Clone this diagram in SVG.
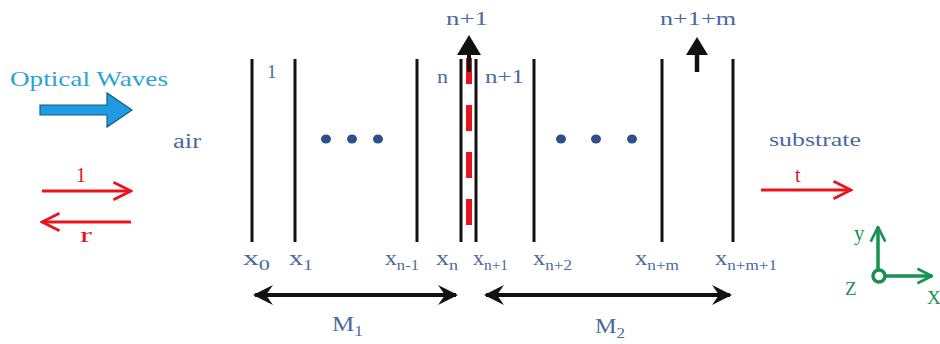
<svg xmlns="http://www.w3.org/2000/svg" width="940" height="344" viewBox="0 0 940 344" font-family="Liberation Serif">
<defs>
<marker id="redhead" viewBox="0 0 12 12" refX="11" refY="6" markerWidth="7" markerHeight="7" orient="auto-start-reverse" markerUnits="strokeWidth">
<path d="M1,1 L11,6 L1,11" fill="none" stroke="#e8141c" stroke-width="1.6"/>
</marker>
<marker id="blkhead" viewBox="0 0 20 20" refX="18" refY="10" markerWidth="5" markerHeight="6" orient="auto-start-reverse" markerUnits="strokeWidth">
<path d="M0,0 L20,10 L0,20 L7,10 Z" fill="#111"/>
</marker>
<marker id="grnhead" viewBox="0 0 12 12" refX="11" refY="6" markerWidth="5" markerHeight="5" orient="auto-start-reverse" markerUnits="strokeWidth">
<path d="M1,1 L11,6 L1,11" fill="none" stroke="#16924f" stroke-width="1.8"/>
</marker>
</defs>

<g id="optical-waves">
<text x="10" y="86" fill="#2aa4d6" font-size="22" font-family="Liberation Serif" textLength="158" lengthAdjust="spacingAndGlyphs">Optical Waves</text>
<path d="M40,105 L107,105 L107,93 L132,110 L107,127 L107,115 L40,115 Z" fill="#1f9be2" stroke="#1a5a8a" stroke-width="1.2"/>
</g>

<g id="air" fill="#4a6a9e"><text x="173" y="148" font-size="20" font-family="Liberation Serif" textLength="28" lengthAdjust="spacingAndGlyphs">air</text></g>
<g id="substrate" fill="#4a6a9e"><text x="769" y="146" font-size="19" font-family="Liberation Serif" textLength="92" lengthAdjust="spacingAndGlyphs">substrate</text></g>

<g id="layers" stroke="#111" stroke-width="3">
<line x1="252" y1="59" x2="252" y2="242"/>
<line x1="295" y1="59" x2="295" y2="242"/>
<line x1="417" y1="59" x2="417" y2="242"/>
<line x1="461" y1="59" x2="461" y2="242"/>
<line x1="476" y1="59" x2="476" y2="242"/>
<line x1="534" y1="59" x2="534" y2="242"/>
<line x1="662" y1="59" x2="662" y2="242"/>
<line x1="733" y1="59" x2="733" y2="242"/>
<line x1="469" y1="58" x2="469" y2="226" stroke="#e8141c" stroke-width="6" stroke-dasharray="26 21"/>
</g>

<g id="layer-labels" fill="#4a6a9e" font-size="19">
<text x="267" y="78" font-family="Liberation Serif">1</text>
<text x="437" y="83" font-family="Liberation Serif" textLength="11" lengthAdjust="spacingAndGlyphs">n</text>
<text x="485" y="83" font-family="Liberation Serif" textLength="39" lengthAdjust="spacingAndGlyphs">n+1</text>
<text x="446" y="25" font-family="Liberation Serif" textLength="42" lengthAdjust="spacingAndGlyphs">n+1</text>
<text x="660" y="25" font-family="Liberation Serif" textLength="76" lengthAdjust="spacingAndGlyphs">n+1+m</text>
</g>

<g id="dots" fill="#2f4f8a">
<ellipse cx="326" cy="139" rx="5" ry="4.5"/>
<ellipse cx="352" cy="139" rx="5" ry="4.5"/>
<ellipse cx="378" cy="139" rx="5" ry="4.5"/>
<ellipse cx="561" cy="139" rx="5" ry="4.5"/>
<ellipse cx="596" cy="139" rx="5" ry="4.5"/>
<ellipse cx="632" cy="139" rx="5" ry="4.5"/>
</g>

<g id="x-labels" fill="#4a6a9e" font-size="20">
<text x="243" y="265" font-family="Liberation Serif" textLength="27" lengthAdjust="spacingAndGlyphs">x<tspan font-size="14" dy="5">0</tspan></text>
<text x="289" y="265" font-family="Liberation Serif" textLength="24" lengthAdjust="spacingAndGlyphs">x<tspan font-size="14" dy="5">1</tspan></text>
<text x="385" y="265" font-family="Liberation Serif" textLength="34" lengthAdjust="spacingAndGlyphs">x<tspan font-size="14" dy="5">n-1</tspan></text>
<text x="436" y="265" font-family="Liberation Serif" textLength="22" lengthAdjust="spacingAndGlyphs">x<tspan font-size="14" dy="5">n</tspan></text>
<text x="473" y="265" font-family="Liberation Serif" textLength="35" lengthAdjust="spacingAndGlyphs">x<tspan font-size="14" dy="5">n+1</tspan></text>
<text x="533" y="265" font-family="Liberation Serif" textLength="39" lengthAdjust="spacingAndGlyphs">x<tspan font-size="14" dy="5">n+2</tspan></text>
<text x="635" y="265" font-family="Liberation Serif" textLength="44" lengthAdjust="spacingAndGlyphs">x<tspan font-size="14" dy="5">n+m</tspan></text>
<text x="715" y="265" font-family="Liberation Serif" textLength="62" lengthAdjust="spacingAndGlyphs">x<tspan font-size="14" dy="5">n+m+1</tspan></text>
</g>

<g id="m-labels" fill="#4a6a9e" font-size="20">
<text x="332" y="331" font-family="Liberation Serif" textLength="31" lengthAdjust="spacingAndGlyphs">M<tspan font-size="14" dy="5">1</tspan></text>
<text x="595" y="333" font-family="Liberation Serif" textLength="30" lengthAdjust="spacingAndGlyphs">M<tspan font-size="14" dy="5">2</tspan></text>
</g>

<g id="field-labels" fill="#e0141c" font-size="20">
<text x="76" y="182" font-family="Liberation Serif">1</text>
<text x="80" y="242" font-family="Liberation Serif" textLength="12" lengthAdjust="spacingAndGlyphs">r</text>
<text x="795" y="182" font-family="Liberation Serif">t</text>
</g>

<g id="axes" fill="#16924f">
<line x1="878" y1="269" x2="878" y2="227" stroke="#16924f" stroke-width="3.5" marker-end="url(#grnhead)"/>
<line x1="886" y1="276" x2="932" y2="276" stroke="#16924f" stroke-width="3.5" marker-end="url(#grnhead)"/>
<circle cx="879" cy="276" r="6" fill="#fff" stroke="#16924f" stroke-width="3.5"/>
<text x="854" y="240" font-size="21" font-family="Liberation Serif">y</text>
<text x="845" y="295" font-size="19" font-family="Liberation Serif">Z</text>
<text x="927" y="304" font-size="19" font-family="Liberation Serif">X</text>
</g>

<g id="connectors">
<g stroke="#e8141c" stroke-width="3" fill="none">
<line x1="42" y1="191" x2="131" y2="191" marker-end="url(#redhead)"/>
<line x1="42" y1="222" x2="131" y2="222" marker-start="url(#redhead)"/>
<line x1="761" y1="190" x2="851" y2="190" marker-end="url(#redhead)"/>
</g>
<g stroke="#111" stroke-width="4" fill="none">
<line x1="255" y1="295" x2="456" y2="295" marker-start="url(#blkhead)" marker-end="url(#blkhead)"/>
<line x1="486" y1="295" x2="730" y2="295" marker-start="url(#blkhead)" marker-end="url(#blkhead)"/>
<line x1="469" y1="72" x2="469" y2="52"/>
<line x1="697" y1="72" x2="697" y2="52" stroke-width="4.5"/>
</g>
<g fill="#111">
<path d="M469,35 L457,55 L481,55 Z"/>
<path d="M697,37 L686,55 L708,55 Z"/>
</g>
</g>
</svg>
